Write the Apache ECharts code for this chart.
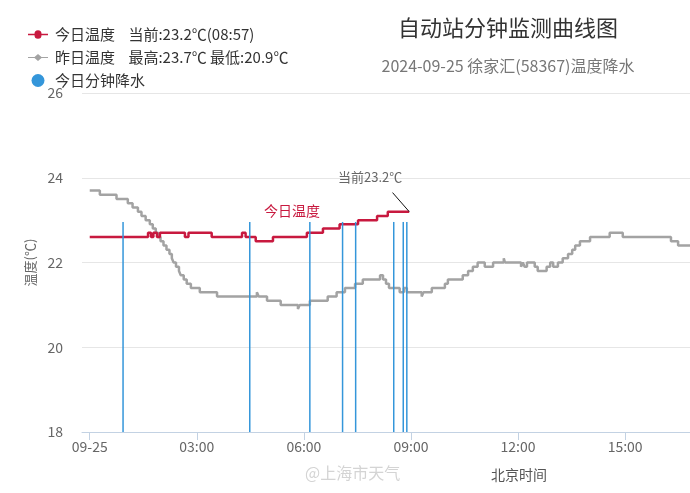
<!DOCTYPE html>
<html>
<head>
<meta charset="utf-8">
<script src="https://cdn.jsdelivr.net/npm/echarts@6/dist/echarts.min.js"></script>
<style>html,body{margin:0;padding:0;background:#fff}#c{width:690px;height:493px}</style>
</head>
<body>
<div id="c"></div>
<script>
// ---- data (minutes after 00:00 on 09-25) ----
const todayTimes = [0,98,103,107,113,118,160,166,205,256,262,279,308,365,392,420,451,483,501,537];
const todayTemps = [22.6,22.7,22.6,22.7,22.6,22.7,22.6,22.7,22.6,22.7,22.6,22.5,22.6,22.7,22.8,22.9,23.0,23.1,23.2,23.2];

const yestTimes = [0,17,45,64,72,81,87,94,101,106,111,115,119,124,129,134,138,141,145,150,153,158,163,170,185,214,281,284,298,321,350,353,370,400,415,429,446,459,488,493,498,503,521,528,533,558,561,575,597,602,627,636,644,652,664,678,696,698,725,728,731,735,748,753,768,774,779,787,795,804,811,816,824,841,874,896,977,989,1020];
const yestTemps = [23.7,23.6,23.5,23.4,23.3,23.2,23.1,23.0,22.9,22.8,22.7,22.6,22.5,22.4,22.3,22.2,22.1,22.0,21.9,21.8,21.7,21.6,21.5,21.4,21.3,21.2,21.3,21.2,21.1,21.0,20.9,21.0,21.1,21.2,21.3,21.4,21.5,21.6,21.7,21.6,21.5,21.4,21.3,21.4,21.3,21.2,21.3,21.4,21.5,21.6,21.7,21.8,21.9,22.0,21.9,22.0,22.1,22.0,21.9,22.0,21.9,22.0,21.9,21.8,21.9,22.0,21.9,22.0,22.1,22.2,22.3,22.4,22.5,22.6,22.7,22.6,22.5,22.4,22.4];

const rainTimes = [56,269,370,425,447,511,527,533];
const rainValues = [0.1,0.1,0.1,0.1,0.1,0.1,0.1,0.1];

const xTickValues = [0,180,360,540,720,900];
const yTicks = [18,20,22,24,26];

const currentTemp = 23.2, currentTime = '08:57';
const yestMax = 23.7, yestMin = 20.9;

const RED = '#c8193f', GRAY = '#a3a3a3', BLUE = '#3496da';
const FONT = '"Noto Sans CJK SC","Noto Sans",sans-serif';

const todayData = todayTimes.map((t,i)=>[t,todayTemps[i]]);
const yestData = yestTimes.map((t,i)=>[t,yestTemps[i]]);
const rainData = rainTimes.map((t,i)=>[t,rainValues[i]]);
const lastT = todayTimes[todayTimes.length-1];
const lastV = todayTemps[todayTemps.length-1];

function fmtX(v){
  if (v === 0) return '09-25';
  const h = Math.floor(v/60)%24;
  return (h<10?'0':'')+h+':00';
}

const ICON_CIRCLE = 'path://M0,4.3 H6.5 A3.5,3.5 0 1 1 13.5,4.3 H20 V5.7 H13.5 A3.5,3.5 0 1 1 6.5,5.7 H0 Z';
const ICON_DIAMOND = 'path://M0,4.4 H6.5 L10,1.5 L13.5,4.4 H20 V5.6 H13.5 L10,8.5 L6.5,5.6 H0 Z';

const chart = echarts.init(document.getElementById('c'), null, {renderer:'canvas'});
chart.setOption({
  animation:false,
  textStyle:{fontFamily:FONT},
  title:{
    text:'自动站分钟监测曲线图',
    subtext:'2024-09-25 徐家汇(58367)温度降水',
    left:503, top:12, textAlign:'center', itemGap:19,
    textStyle:{fontSize:22,fontWeight:'normal',color:'#333',fontFamily:FONT},
    subtextStyle:{fontSize:16,color:'#777',fontFamily:FONT}
  },
  legend:{
    orient:'vertical', left:23, top:22, itemGap:8, itemWidth:20, itemHeight:13,
    textStyle:{fontSize:15,color:'#333',fontFamily:FONT,padding:[0,0,0,2]},
    data:[{name:'今日温度',icon:ICON_CIRCLE},{name:'昨日温度',icon:ICON_DIAMOND},{name:'今日分钟降水',icon:'circle'}],
    formatter:function(n){
      if(n==='今日温度') return n+'    当前:'+currentTemp.toFixed(1)+'℃('+currentTime+')';
      if(n==='昨日温度') return n+'    最高:'+yestMax.toFixed(1)+'℃ 最低:'+yestMin.toFixed(1)+'℃';
      return n;
    }
  },
  grid:{left:82, right:0, top:93, bottom:61, containLabel:false},
  xAxis:{
    type:'value', min:-13, max:1009,
    name:'北京时间', nameLocation:'middle', nameGap:36,
    nameTextStyle:{fontSize:14,color:'#555',padding:[0,0,0,266]},
    axisLine:{show:true,lineStyle:{color:'#c3d2e3',width:1}},
    axisTick:{show:true,length:8,lineStyle:{color:'#c3d2e3'},customValues:xTickValues},
    axisLabel:{customValues:xTickValues,formatter:fmtX,fontSize:14,color:'#666',margin:8},
    splitLine:{show:false}
  },
  yAxis:[{
    type:'value', min:18, max:26, interval:2,
    name:'温度(℃)', nameLocation:'middle', nameGap:39,
    nameTextStyle:{fontSize:13,color:'#666'},
    axisLine:{show:false}, axisTick:{show:false},
    axisLabel:{fontSize:14,color:'#666',margin:19},
    splitLine:{lineStyle:{color:'#e6e6e6',width:1}}
  },{
    type:'value', min:0, max:0.1614, show:false, splitLine:{show:false}
  }],
  series:[{
    name:'今日温度', type:'line', step:'end', data:todayData,
    symbol:'none', showSymbol:false,
    itemStyle:{color:RED}, lineStyle:{color:RED,width:2.5}, z:3,
    markPoint:{
      symbol:'circle', symbolSize:0, silent:true,
      data:[
        {coord:[lastT,lastV], label:{show:true, formatter:'当前'+lastV.toFixed(1)+'℃', offset:[-39,-35], color:'#666', fontSize:13}},
        {coord:[340,23.23], label:{show:true, formatter:'今日温度', color:RED, fontSize:14}}
      ]
    },
    markLine:{
      symbol:'none', silent:true, label:{show:false},
      lineStyle:{color:'#111',width:1,type:'solid'},
      data:[[{coord:[lastT,lastV]},{coord:[lastT-28,lastV+0.45]}]]
    }
  },{
    name:'昨日温度', type:'line', step:'end', data:yestData,
    symbol:'none', showSymbol:false,
    itemStyle:{color:GRAY}, lineStyle:{color:GRAY,width:2.5}, z:2
  },{
    name:'今日分钟降水', type:'bar', yAxisIndex:1, data:rainData,
    barWidth:1.5, itemStyle:{color:BLUE}, z:4
  }],
  graphic:[{
    type:'text', left:305, top:465,
    style:{text:'@上海市天气', fill:'#d4d4d4', fontSize:16, fontFamily:FONT}
  }]
});
</script>
</body>
</html>
